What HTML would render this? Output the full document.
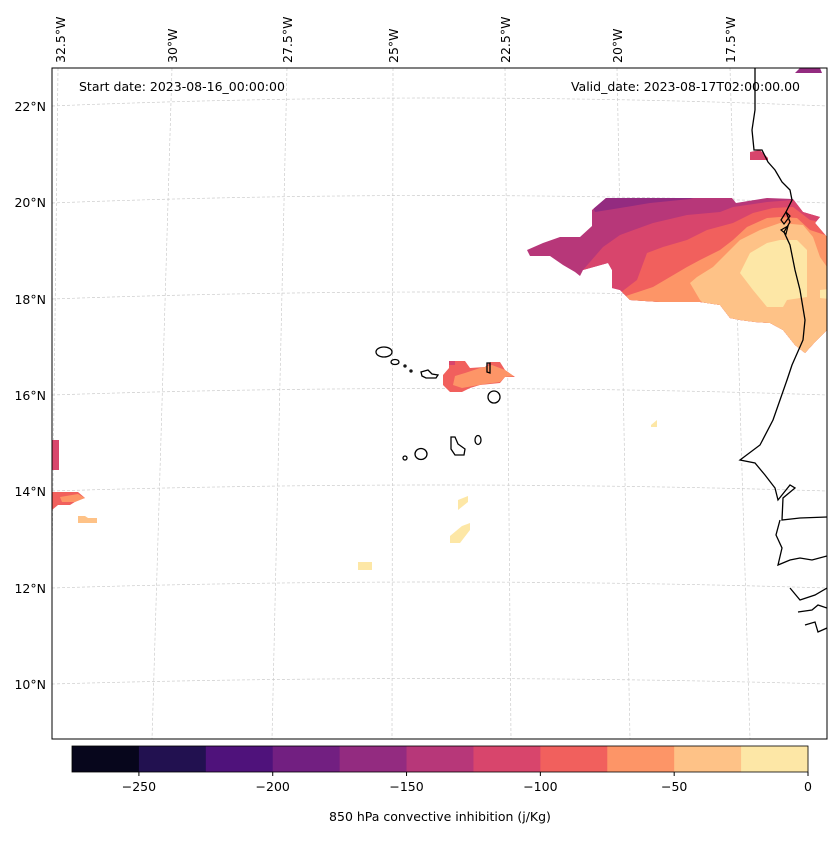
<!DOCTYPE html>
<html><head><meta charset="utf-8"><style>
body{margin:0;background:#fff;font-family:"Liberation Sans","DejaVu Sans",sans-serif;}
svg text{font-family:"DejaVu Sans","Liberation Sans",sans-serif;font-size:12.5px;fill:#000}
</style></head><body>
<svg width="837" height="836" viewBox="0 0 837 836">
<defs>
<clipPath id="mapclip"><rect x="52" y="68" width="775" height="671"/></clipPath>
<clipPath id="mainclip"><polygon points="527,250 543,243 560,237 580,237 592,226 592,210 606,198 732,198 736,203 767,198 793,199 803,212 820,217 815,223 827,237 827,330 815,342 805,353 795,345 783,330 770,323 755,322 740,320 730,318 720,305 700,302 660,302 630,300 620,290 612,288 612,270 608,263 583,270 580,276 575,272 563,265 550,256 530,256"/></clipPath>
<clipPath id="cvclip"><polygon points="449,361 465,361 470,368 485,367 490,362 500,362 505,370 515,377 505,377 500,383 480,385 470,388 462,392 450,392 443,385 443,375 449,368"/></clipPath>
</defs>
<g id="map" clip-path="url(#mapclip)">
<g id="grid" stroke="#ccc" stroke-width="0.7" stroke-dasharray="3,2" fill="none">
<path d="M52,106 Q440,90 827,106"/><path d="M52,203 Q440,188 827,203"/><path d="M52,299 Q440,285 827,299"/>
<path d="M52,395 Q440,382 827,395"/><path d="M52,491 Q440,479 827,491"/><path d="M52,588 Q440,576 827,588"/><path d="M52,684 Q440,673 827,684"/>
<line x1="58" y1="68" x2="50" y2="739"/><line x1="172" y1="68" x2="152" y2="739"/><line x1="287" y1="68" x2="272" y2="739"/>
<line x1="393" y1="68" x2="392" y2="739"/><line x1="505" y1="68" x2="511" y2="739"/><line x1="617" y1="68" x2="630" y2="739"/><line x1="730" y1="68" x2="750" y2="739"/>
</g>
<g clip-path="url(#mainclip)">
<rect x="500" y="190" width="340" height="170" fill="#b73779"/>
<polygon points="590,200 606,196 700,196 690,199 650,203 620,208 595,212" fill="#932b80"/>
<polygon points="583,270 603,247 620,235 653,223 687,215 720,212 733,207 767,202 793,200 840,198 840,400 583,400" fill="#d8456c"/>
<polygon points="620,293 637,280 647,253 663,247 687,240 707,230 733,223 753,213 773,208 793,207 810,220 840,225 840,400 620,400" fill="#f1605d"/>
<polygon points="623,297 653,287 670,277 687,267 700,260 720,250 733,240 747,227 767,218 780,217 797,218 810,230 840,240 840,400 623,400" fill="#fd9567"/>
<polygon points="697,277 713,267 727,253 740,240 760,230 780,223 803,225 813,237 820,257 827,267 840,267 840,400 745,400 740,322 730,318 713,313 700,300 690,283" fill="#fec287"/>
<polygon points="740,273 750,253 767,243 780,240 797,240 807,250 807,297 787,300 783,307 767,307 753,290" fill="#fde7a6"/>
<polygon points="820,290 840,288 840,300 820,298" fill="#fde7a6"/>
</g>
<g clip-path="url(#cvclip)">
<rect x="440" y="358" width="80" height="40" fill="#f1605d"/>
<polygon points="453,385 455,376 465,373 480,368 492,365 505,370 516,376 505,377 500,382 485,384 462,388" fill="#fd9567"/>
<rect x="445" y="358" width="10" height="7" fill="#d8456c"/>
</g>
<g>
<polygon points="750,152 760,150 768,158 768,160 750,160" fill="#d8456c"/>
<polygon points="795,73 800,68 820,68 822,73" fill="#932b80"/>
<rect x="52" y="440" width="7" height="30" fill="#d8456c"/>
<polygon points="52,492 78,492 85,498 78,500 70,505 58,505 52,510" fill="#f1605d"/>
<polygon points="60,497 78,494 85,498 75,502 62,502" fill="#fd9567"/>
<polygon points="78,516 85,516 88,518 97,518 97,523 78,523" fill="#fec287"/>
<polygon points="458,500 468,496 468,502 458,510" fill="#fde7a6"/>
<polygon points="450,536 462,526 470,523 470,530 460,543 450,543" fill="#fde7a6"/>
<rect x="358" y="562" width="14" height="8" fill="#fde7a6"/>
<polygon points="651,425 657,420 657,427 651,427" fill="#fde7a6"/>
</g>
<g fill="none" stroke="#000" stroke-width="1.3">
<polyline points="755,68 755,110 752,130 754,150 762,150 768,162 775,170 782,182 790,190 792,200 786,212 790,222 784,232 790,245 795,270 800,290 805,320 803,340 792,365 787,380 780,400 773,420 760,445 740,460 755,463 765,475 775,488 778,500 790,485 795,488 783,498 782,520 800,518 827,517"/>
<polyline points="780,520 776,535 782,548 778,565 790,560 800,558 812,560 827,556"/>
<polyline points="790,588 800,600 815,595 827,588"/>
<polyline points="798,612 812,610 818,605 827,608"/>
<polyline points="805,625 815,622 818,632 827,628"/>
<ellipse cx="384" cy="352" rx="8" ry="5"/><ellipse cx="395" cy="362" rx="4" ry="2.5"/>
<circle cx="405" cy="366" r="1"/><circle cx="411" cy="371" r="1"/>
<path d="M421,372 L428,370 L432,374 L438,375 L436,378 L426,378 L422,376Z"/>
<path d="M487,363 L490,363 L490,373 L487,372Z"/>
<ellipse cx="494" cy="397" rx="6" ry="6"/>
<ellipse cx="478" cy="440" rx="3" ry="4.5"/>
<path d="M451,437 L455,437 L458,444 L465,449 L464,455 L455,455 L451,449Z"/>
<ellipse cx="421" cy="454" rx="6" ry="5.5"/>
<circle cx="405" cy="458" r="2"/>
</g>
<g fill="none" stroke="#000" stroke-width="1.2">
<path d="M781,220 L786,212 L790,216 L784,224Z"/><path d="M781,230 L788,226 L786,234Z"/>
</g>
</g>
<rect x="52" y="68" width="775" height="671" fill="none" stroke="#000" stroke-width="1"/>
<text x="79" y="91">Start date: 2023-08-16_00:00:00</text>
<text x="800" y="91" text-anchor="end">Valid_date: 2023-08-17T02:00:00.00</text>
<g text-anchor="end">
<text x="46" y="111">22°N</text><text x="46" y="207">20°N</text><text x="46" y="304">18°N</text><text x="46" y="400">16°N</text>
<text x="46" y="496">14°N</text><text x="46" y="593">12°N</text><text x="46" y="689">10°N</text>
</g>
<g>
<text transform="translate(65,63) rotate(-90)">32.5°W</text><text transform="translate(177,63) rotate(-90)">30°W</text>
<text transform="translate(292,63) rotate(-90)">27.5°W</text><text transform="translate(398,63) rotate(-90)">25°W</text>
<text transform="translate(510,63) rotate(-90)">22.5°W</text><text transform="translate(622,63) rotate(-90)">20°W</text>
<text transform="translate(735,63) rotate(-90)">17.5°W</text>
</g>
<g id="cbar"></g>
<text x="440" y="821" text-anchor="middle">850 hPa convective inhibition (j/Kg)</text>
</svg>
<script>
const levels = [-275,-250,-225,-200,-175,-150,-125,-100,-75,-50,-25,0];
const levelColors = ["#07061c","#221150","#4f127b","#721f81","#932b80","#b73779","#d8456c","#f1605d","#fd9567","#fec287","#fde7a6"];
const tickValues = [-250,-200,-150,-100,-50,0];
const tickLabels = ["\u2212250","\u2212200","\u2212150","\u2212100","\u221250","0"];
const NS="http://www.w3.org/2000/svg";
const cb=document.getElementById('cbar');
const x0=72,x1=808,yT=746,yB=772;
function cx(v){return x0+(v-levels[0])/(levels[levels.length-1]-levels[0])*(x1-x0);}
for(let i=0;i<levelColors.length;i++){
  const r=document.createElementNS(NS,'rect');
  r.setAttribute('x',cx(levels[i]));r.setAttribute('y',yT);
  r.setAttribute('width',cx(levels[i+1])-cx(levels[i])+0.5);r.setAttribute('height',yB-yT);
  r.setAttribute('fill',levelColors[i]);
  
  
  cb.appendChild(r);
}
const fr=document.createElementNS(NS,'rect');
fr.setAttribute('x',x0);fr.setAttribute('y',yT);fr.setAttribute('width',x1-x0);fr.setAttribute('height',yB-yT);
fr.setAttribute('fill','none');fr.setAttribute('stroke','#000');fr.setAttribute('stroke-width','0.8');


cb.appendChild(fr);
tickValues.forEach((v,i)=>{
  const l=document.createElementNS(NS,'line');
  l.setAttribute('x1',cx(v));l.setAttribute('x2',cx(v));l.setAttribute('y1',yB);l.setAttribute('y2',yB+4);
  l.setAttribute('stroke','#000');
  
  
  cb.appendChild(l);
  const t=document.createElementNS(NS,'text');
  t.setAttribute('x',cx(v));t.setAttribute('y',yB+19);t.setAttribute('text-anchor','middle');
  t.textContent=tickLabels[i];
  
  
  cb.appendChild(t);
});
</script>
</body></html>
